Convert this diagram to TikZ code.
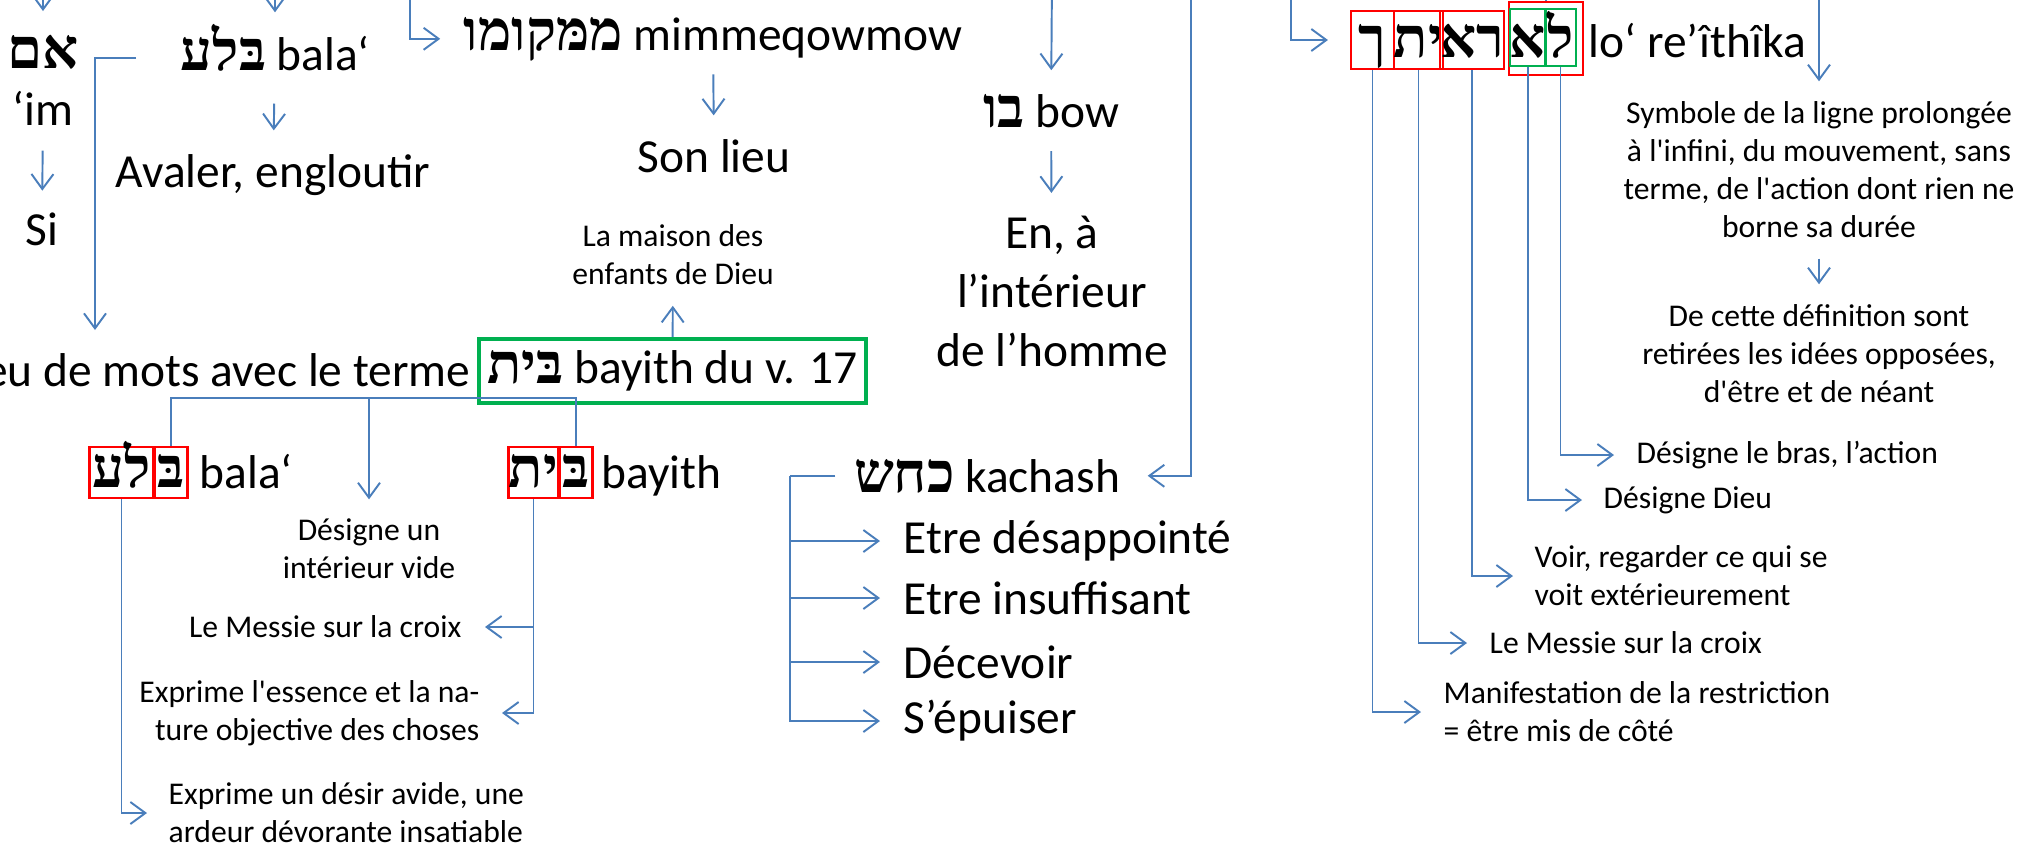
\documentclass[tikz,border=0pt]{standalone}
\usepackage{fontspec}
\setmainfont{Carlito}
\newfontfamily\hebfont[Script=Hebrew]{Liberation Serif}
\usetikzlibrary{arrows.meta}
\TeXXeTstate=1
\definecolor{linkblue}{RGB}{74,126,187}
\definecolor{boxgreen}{RGB}{0,176,80}
\newcommand{\heb}[1]{{\fontsize{16}{18}\selectfont\hebfont\bfseries\beginR#1\endR}}

\begin{document}
\begin{tikzpicture}[x=0.1mm, y=-0.1mm,
  every node/.style={inner sep=0pt},
  link/.style={draw=linkblue, line width=0.55pt},
  arr/.style={link, -{Straight Barb[length=1.5mm,width=2.2mm]}},
  big/.style={font=\fontsize{13.5}{16.8}\selectfont},
  small/.style={font=\fontsize{9}{10.8}\selectfont},
  letterbox/.style={draw=red, line width=0.6pt, minimum width=#1, minimum height=5.8mm, text height=3.4mm, text depth=0pt},
  greenbox/.style={letterbox=#1, draw=boxgreen, minimum height=5.7mm, text height=3.9mm}]
\useasboundingbox (0,0) rectangle (2018,850);
\clip (0,0) rectangle (2018,850);

\coordinate (imtop) at (43,-20);
\node[anchor=base] (imheb) at (43,68) {\heb{אם}};
\node[big, anchor=base] (im) at (43,125) {‘im};
\node[big, anchor=base] (si) at (42,245) {Si};
\draw[arr, shorten >=2.3mm] (imtop) -- (imheb);
\draw[arr, shorten <=2.5mm, shorten >=2.1mm] (im) -- (si);

\coordinate (balatip) at (275,-20);
\node[big, anchor=base, text height=2.4mm] (balatop) at (275,70) {\heb{בּלע} bala‘};
\node[big, anchor=base] (avaler) at (273,187) {Avaler, engloutir};
\draw[arr, shorten >=3.3mm] (balatip) -- (balatop);
\draw[arr, shorten <=3.2mm, shorten >=2.3mm] (balatop) -- (avaler);
\coordinate (jeuhook) at (95,330);
\draw[arr, shorten <=4.4mm] (balatop.west) -| (jeuhook);

\coordinate (mimtop) at (410,-20);
\node[big, anchor=base] (mim) at (713,50) {\heb{ממּקומו} mimmeqowmow};
\node[big, anchor=base] (sonlieu) at (714,172) {Son lieu};
\draw[arr, shorten >=2.3mm] (mimtop) |- (mim);
\draw[arr, shorten <=1.3mm, shorten >=2.3mm] (mim) -- (sonlieu);

\coordinate (bowtop) at (1052,-20);
\node[big, anchor=base] (bow) at (1051,127) {\heb{בו} bow};
\node[big, align=center] (enl) at (1052,291) {En, à\\l’intérieur\\de l’homme};
\draw[arr, shorten >=2.3mm] (bowtop) -- (bow);
\draw[arr, shorten <=2.3mm, shorten >=2.2mm] (bow) -- (enl);

\coordinate (kachtop) at (1191,-20);
\coordinate (kachfork) at (790,476);
\node[big, anchor=base] (kach) at (987,492) {\heb{כחש} kachash};
\node[big, anchor=west] (e1) at (903,541) {Etre désappointé};
\node[big, anchor=west] (e2) at (903,598) {Etre insuffisant};
\node[big, anchor=west] (e3) at (903,662) {Décevoir};
\node[big, anchor=west] (e4) at (903,721) {S’épuiser};
\draw[arr, shorten >=2.7mm] (kachtop) |- (kach);
\draw[link, shorten <=1.8mm] (kach.west) -- (kach.west -| kachfork);
\foreach \e in {e1,e2,e3,e4}
  \draw[arr, shorten >=2.3mm] (kach.west -| kachfork) |- (\e.west);

\node[big, anchor=base east] (jeu) at (471,386) {Jeu de mots avec le terme};
\node[big, draw=boxgreen, line width=1.2pt, minimum width=38.7mm, minimum height=6.4mm] (gbox) at (672.5,371) {\heb{בּית} bayith du v. 17};
\node[small, align=center] (maison) at (673,255) {La maison des\\enfants de Dieu};
\draw[arr, shorten >=2.0mm] (gbox) -- (maison);

\coordinate (fork) at (369,398);
\node[letterbox=6.4mm, minimum height=5.1mm, text height=2.9mm] (bl1) at (121.5,472.5) {\heb{לע}};
\node[letterbox=3.3mm, minimum height=5.1mm, text height=2.9mm] (bl2) at (171,472.5) {\heb{בּ}};
\node[letterbox=5.0mm, minimum height=5.1mm, text height=2.9mm] (bt1) at (533.5,472.5) {\heb{ית}};
\node[letterbox=3.3mm, minimum height=5.1mm, text height=2.9mm] (bt2) at (576,472.5) {\heb{בּ}};
\node[big, anchor=base west] (balab) at (199,488) {bala‘};
\node[big, anchor=base west] (bayb) at (601,488) {bayith};
\node[small, align=center] (vide) at (369,549) {Désigne un\\intérieur vide};
\draw[link] (bl2.north) |- (fork) -| (bt2.north);
\draw[arr, shorten >=1.9mm] (fork) -- (vide);

\node[small, anchor=east] (messie1) at (462,627) {Le Messie sur la croix};
\node[small, anchor=east, align=right] (essence) at (480,713) {Exprime l\textquotesingle essence et la na-\\ture objective des choses};
\node[small, anchor=west, align=left] (desir) at (168,813) {Exprime un désir avide, une\\ardeur dévorante insatiable};
\draw[arr, shorten >=2.3mm] (bt1.south) |- (messie1);
\draw[arr, shorten >=2.2mm] (bt1.south) |- (essence);
\draw[arr, shorten >=2.1mm] (bl1.south) |- (desir);

\coordinate (rtop) at (1291,-20);
\coordinate (lotop) at (1546,-20);
\node[letterbox=4.3mm] (rk1) at (1372.5,40) {\heb{ך}};
\node[letterbox=4.5mm] (rk2) at (1418.5,40) {\heb{ית}};
\node[letterbox=5.8mm] (rk3) at (1472,40) {\heb{רא}};
\node[draw=red, line width=0.6pt, minimum width=7.4mm, minimum height=7.3mm] (lobox) at (1546,38.5) {};
\node[greenbox=3.0mm] (gl1) at (1528,37.5) {\heb{א}};
\node[greenbox=3.1mm] (gl2) at (1560.5,37.5) {\heb{ל}};
\node[big, anchor=base west] (lore) at (1588,57) {lo‘ re’îthîka};
\draw[arr, shorten >=2.2mm] (rtop) |- (rk1);
\draw[link] (lotop) -- (lobox);

\coordinate (symtop) at (1819,-20);
\node[small, align=center] (symb) at (1819,170) {Symbole de la ligne prolongée\\à l\textquotesingle infini, du mouvement, sans\\terme, de l\textquotesingle action dont rien ne\\borne sa durée};
\node[small, align=center] (defi) at (1819,354) {De cette définition sont\\retirées les idées opposées,\\d\textquotesingle être et de néant};
\draw[arr, shorten >=2.0mm] (symtop) -- (symb);
\draw[arr, shorten <=2.0mm, shorten >=2.0mm] (symb) -- (defi);

\node[small, anchor=west] (bras) at (1636,455) {Désigne le bras, l’action};
\node[small, anchor=west] (dieu) at (1603,500) {Désigne Dieu};
\node[small, anchor=west, align=left] (voir) at (1534,576) {Voir, regarder ce qui se\\voit extérieurement};
\node[small, anchor=west] (messie2) at (1489,643) {Le Messie sur la croix};
\node[small, anchor=west, align=left] (manif) at (1443,712) {Manifestation de la restriction\\= être mis de côté};
\draw[arr, shorten >=2.2mm] (gl2.south) |- (bras);
\draw[arr, shorten >=2.1mm] (gl1.south) |- (dieu);
\draw[arr, shorten >=2.1mm] (rk3.south) |- (voir);
\draw[arr, shorten >=2.2mm] (rk2.south) |- (messie2);
\draw[arr, shorten >=2.2mm] (rk1.south) |- (manif);
\end{tikzpicture}
\end{document}
